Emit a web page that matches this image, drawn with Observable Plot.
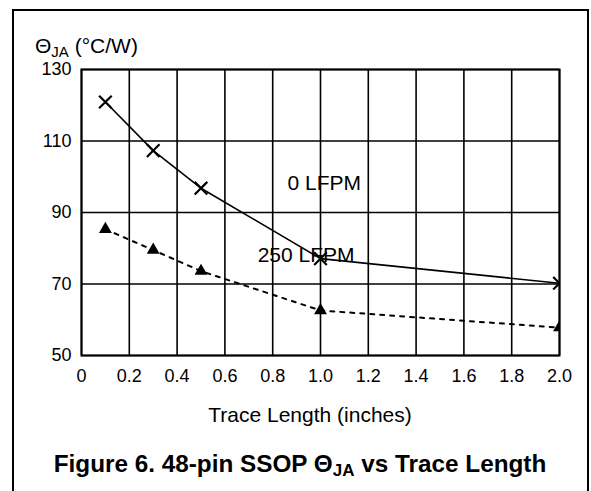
<!DOCTYPE html>
<html><head><meta charset="utf-8">
<script src="https://cdn.jsdelivr.net/npm/d3@7"></script>
<script src="https://cdn.jsdelivr.net/npm/@observablehq/plot@0.6"></script>
<style>
body{margin:0;background:#fff;font-family:"Liberation Sans",Arial,Helvetica,sans-serif;color:#000}
#wrap{position:relative;width:591px;height:491px;overflow:hidden}
#box{position:absolute;left:12px;top:9px;width:573px;height:520px;border:2px solid #000;box-sizing:content-box}
#wrap svg{position:absolute;left:0;top:0}
</style>
</head><body>
<div id="wrap"><div id="box"></div></div>
<script>
// Data
const traceLength = [0.1, 0.3, 0.5, 1.0, 2.0];
const theta0LFPM = [120.9, 107.3, 96.8, 77.1, 70.2];
const theta250LFPM = [85.3, 79.5, 73.6, 62.6, 57.8];
const xTicks = [0, 0.2, 0.4, 0.6, 0.8, 1.0, 1.2, 1.4, 1.6, 1.8, 2.0];
const xTickLabels = ["0", "0.2", "0.4", "0.6", "0.8", "1.0", "1.2", "1.4", "1.6", "1.8", "2.0"];
const yTicks = [50, 70, 90, 110, 130];
const yTickLabels = ["50", "70", "90", "110", "130"];
const annLabels = ["0 LFPM", "250 LFPM"];
const annX = [0.862, 0.737];
const annY = [98.2, 78.0];

const s0 = traceLength.map((x, i) => ({x, y: theta0LFPM[i]}));
const s250 = traceLength.map((x, i) => ({x, y: theta250LFPM[i]}));
const ann = annLabels.map((t, i) => ({t, x: annX[i], y: annY[i]}));

const svg = Plot.plot({
  width: 591,
  height: 491,
  marginLeft: 81,
  marginRight: 32,
  marginTop: 69,
  marginBottom: 136,
  style: {fontFamily: '"Liberation Sans", Arial, sans-serif', fontSize: "18px", color: "#000", background: "transparent"},
  x: {domain: [0, 2], ticks: xTicks, tickFormat: d => xTickLabels[xTicks.findIndex(t => Math.abs(t - d) < 1e-9)], tickSize: 0, tickPadding: 14, label: null},
  y: {domain: [50, 130], ticks: yTicks, tickFormat: d => yTickLabels[yTicks.indexOf(d)], tickSize: 0, tickPadding: 10, label: null},
  marks: [
    Plot.gridX(xTicks, {stroke: "#000", strokeOpacity: 1, strokeWidth: 1.6}),
    Plot.gridY(yTicks, {stroke: "#000", strokeOpacity: 1, strokeWidth: 1.6}),
    Plot.frame({stroke: "#000", strokeWidth: 2}),
    Plot.line(s0, {x: "x", y: "y", stroke: "#000", strokeWidth: 1.6}),
    Plot.line(s250, {x: "x", y: "y", stroke: "#000", strokeWidth: 2, strokeDasharray: "4,6"}),
    Plot.dot(s0, {x: "x", y: "y", symbol: "times", r: 5.8, stroke: "#000", strokeWidth: 2.2, clip: true}),
    Plot.dot(s250, {x: "x", y: "y", symbol: "triangle", r: 4.8, fill: "#000", stroke: "none", clip: true}),
    Plot.text(ann, {x: "x", y: "y", text: "t", textAnchor: "start", fontSize: 21, fill: "#000"})
  ]
});
document.getElementById("wrap").appendChild(svg);

const s = d3.select(svg);
const font = '"Liberation Sans", Arial, sans-serif';
// y-axis label
const yl = s.append("text").attr("x", 35).attr("y", 53).attr("text-anchor", "start").attr("font-size", 21).attr("font-family", font).attr("fill", "#000");
yl.append("tspan").text("Θ");
yl.append("tspan").attr("font-size", 15).attr("dy", 4).text("JA");
yl.append("tspan").attr("dy", -4).text(" (°C/W)");
// x-axis label
s.append("text").attr("x", 310).attr("y", 422).attr("text-anchor", "middle").attr("font-size", 21).attr("font-family", font).attr("fill", "#000").text("Trace Length (inches)");
// caption
const ti = s.append("text").attr("x", 300).attr("y", 472).attr("text-anchor", "middle").attr("font-size", 24.3).attr("font-weight", "bold").attr("font-family", font).attr("fill", "#000");
ti.append("tspan").text("Figure 6. 48-pin SSOP Θ");
ti.append("tspan").attr("font-size", 17).attr("dy", 4).text("JA");
ti.append("tspan").attr("dy", -4).text(" vs Trace Length");
</script>
</body></html>
